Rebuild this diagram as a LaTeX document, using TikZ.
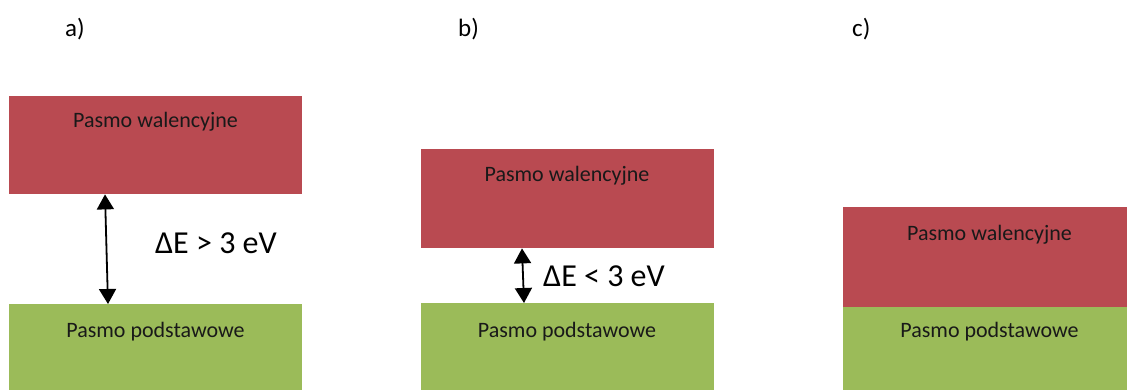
\documentclass[tikz,border=0pt]{standalone}
\usepackage{fontspec}
\setmainfont{Carlito}
\usetikzlibrary{arrows.meta}
\definecolor{bandred}{HTML}{B94A51}
\definecolor{bandgreen}{HTML}{9BBB59}
\begin{document}
\begin{tikzpicture}[x=1pt,y=-1pt,
  band/.style={draw=none,inner sep=0pt,minimum width=293pt,anchor=north west},
  redband/.style={band,fill=bandred},
  greenband/.style={band,fill=bandgreen},
  bandtext/.style={anchor=base,inner sep=0pt,font=\fontsize{22}{26}\selectfont,text=black!90},
  gaptext/.style={anchor=base west,inner sep=0pt,font=\fontsize{32}{38}\selectfont},
  paneltext/.style={anchor=base west,inner sep=0pt,font=\fontsize{25}{30}\selectfont},
  gaparrow/.style={line width=1.8pt,{Triangle[width=17pt,length=15pt]}-{Triangle[width=17pt,length=15pt]}}]
\useasboundingbox (0,0) rectangle (1127,389);
\begin{scope}
\clip (0,0) rectangle (1127,389);
% panel a
\node[redband,minimum height=98pt] (ra) at (9,96) {};
\node[greenband,minimum height=90pt] (ga) at (9,304) {};
% panel b
\node[redband,minimum height=99pt] (rb) at (421,149) {};
\node[greenband,minimum height=90pt] (gb) at (421,303) {};
% panel c
\node[redband,minimum height=100pt] (rc) at (843,207) {};
\node[greenband,minimum height=90pt] (gc) at (843,307) {};
\end{scope}
% labels
\node[paneltext] (la) at (65,36) {a)};
\node[paneltext] (lb) at (458,36) {b)};
\node[paneltext] (lc) at (852,36) {c)};
% band texts
\node[bandtext] (tra) at (155.5,127) {Pasmo walencyjne};
\node[bandtext] (tga) at (155.5,337) {Pasmo podstawowe};
\node[bandtext] (trb) at (567,181) {Pasmo walencyjne};
\node[bandtext] (tgb) at (567,337) {Pasmo podstawowe};
\node[bandtext] (trc) at (989.5,240) {Pasmo walencyjne};
\node[bandtext] (tgc) at (989.5,337) {Pasmo podstawowe};
% gaps
\draw[gaparrow] ([xshift=96pt]ra.south west) -- ([xshift=99pt]ga.north west);
\node[gaptext] (ea) at (155,253) {ΔE > 3 eV};
\draw[gaparrow] ([xshift=101pt]rb.south west) -- ([xshift=103pt]gb.north west);
\node[gaptext] (eb) at (543,286) {ΔE < 3 eV};
\end{tikzpicture}
\end{document}
